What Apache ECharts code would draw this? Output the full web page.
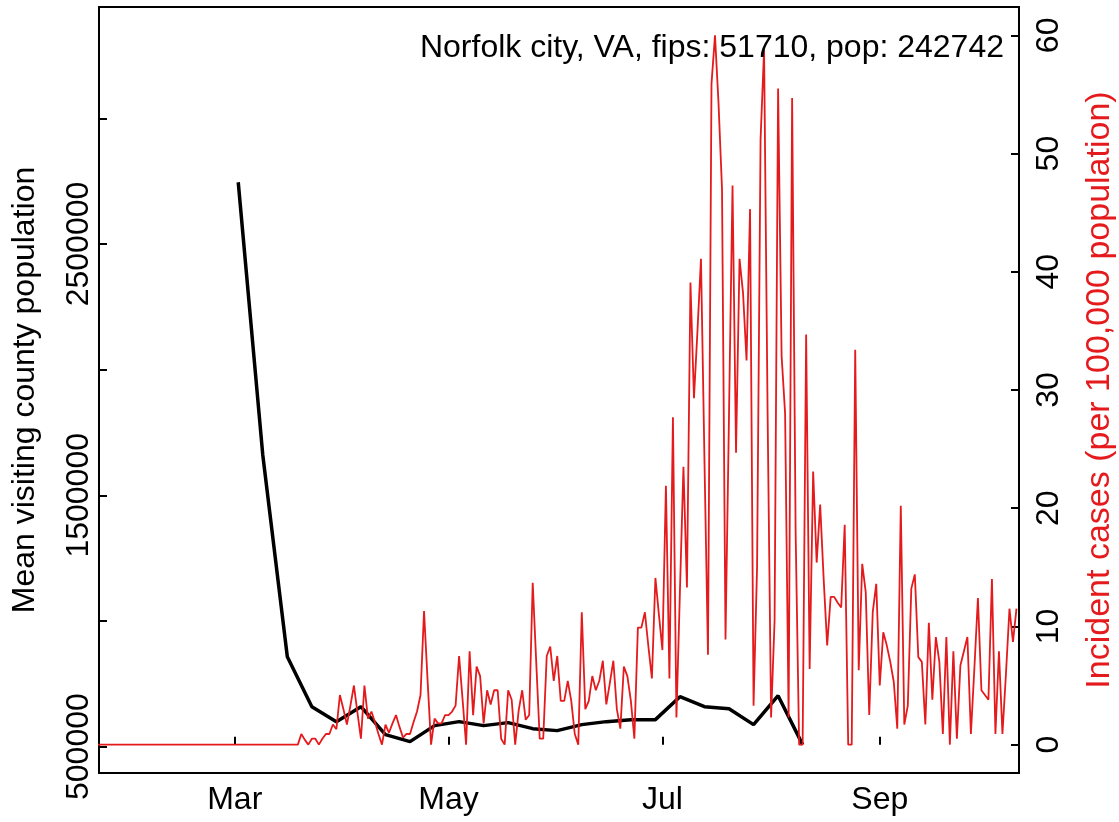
<!DOCTYPE html>
<html>
<head>
<meta charset="utf-8">
<script src="https://cdn.jsdelivr.net/npm/echarts@6/dist/echarts.min.js"></script>
<style>
html,body{margin:0;padding:0;background:#ffffff;}
#chart{width:1119px;height:822px;}
</style>
</head>
<body>
<div id="chart"></div>
<script>
// ---------- text ----------
const titleText = 'Norfolk city, VA, fips: 51710, pop: 242742';
const leftAxisName = 'Mean visiting county population';
const rightAxisName = 'Incident cases (per 100,000 population)';

// ---------- axes ----------
const monthTickDates = ['2020-03-01', '2020-05-01', '2020-07-01', '2020-09-01'];
const monthTickLabels = ['Mar', 'May', 'Jul', 'Sep'];
const xDataRange = ['2020-02-01', '2020-10-01'];          // plotted date range (axis padded 4% each side)
const leftTickValues = [500000, 1000000, 1500000, 2000000, 2500000, 3000000];
const leftLabelValues = [500000, 1500000, 2500000];
const leftRange = [395000, 3443000];
const rightTickValues = [0, 10, 20, 30, 40, 50, 60];
const rightRange = [-2.4, 62.4];

// ---------- black series: mean visiting county population (weekly) ----------
const blackDates = ['2020-03-02', '2020-03-09', '2020-03-16', '2020-03-23', '2020-03-30',
  '2020-04-06', '2020-04-13', '2020-04-20', '2020-04-27', '2020-05-04', '2020-05-11',
  '2020-05-18', '2020-05-25', '2020-06-01', '2020-06-08', '2020-06-15', '2020-06-22',
  '2020-06-29', '2020-07-06', '2020-07-13', '2020-07-20', '2020-07-27', '2020-08-03',
  '2020-08-10'];
const blackValues = [2745600, 1660700, 857750, 659000, 599400,
  659000, 547700, 519900, 583500, 599400, 583500,
  595400, 571550, 563600, 587450, 599400, 607300,
  607300, 698750, 659000, 651000, 587450, 702700,
  508000];

// ---------- red series: daily incident cases per 100,000 ----------
const redStartDate = '2020-01-22';
const redValues = [
  0, 0, 0, 0, 0, 0, 0, 0, 0, 0,
  0, 0, 0, 0, 0, 0, 0, 0, 0, 0,
  0, 0, 0, 0, 0, 0, 0, 0, 0, 0,
  0, 0, 0, 0, 0, 0, 0, 0, 0, 0,
  0, 0, 0, 0, 0, 0, 0, 0, 0, 0,
  0, 0, 0, 0, 0, 0,
  0, 0, 0.9, 0.4, 0, 0.5, 0.5, 0, 0.5, 0.9,
  0.9, 1.7, 1.3, 4.2, 3.0, 1.7, 3.3, 5.0, 2.7, 0.5,
  5.0, 2.2, 2.8, 1.9, 0.9, 0, 1.7, 1.0, 1.8, 2.5,
  1.5, 0.6, 0.9, 0.9, 1.9, 2.8, 4.2, 11.3, 5.5, 0,
  2.2, 1.8, 1.8, 2.5, 2.5, 2.8, 3.3, 7.5, 3.8, 0,
  7.9, 2.5, 6.6, 5.8, 1.8, 4.6, 3.4, 4.6, 4.6, 0.5,
  0, 4.6, 3.8, 0, 2.9, 4.6, 2.1, 2.5, 13.7, 7.0,
  0.5, 0.5, 7.5, 8.3, 5.4, 7.5, 3.7, 3.7, 5.4, 3.7,
  0.9, 0, 11.2, 3.0, 3.7, 5.8, 4.6, 5.4, 7.1, 3.4,
  5.2, 7.1, 3.0, 1.35, 6.6, 5.8, 3.7, 0.5, 9.9, 9.9,
  11.2, 8.3, 5.6, 14.1, 11, 8.0, 21.9, 5.6, 27.7, 2.3,
  13, 23.5, 13.3, 39.1, 29.3, 35, 41.1, 24, 7.6, 55.9,
  60, 54.3, 47, 8.9, 28, 47.3, 24.7, 41.1, 38.2, 32.5,
  45.3, 3.3, 15, 51.2, 58.8, 28.2, 2.3, 10.5, 55.5, 32.9,
  28, 2.3, 54.7, 18, 0, 0, 34.7, 6.4, 23.1, 15.4,
  20.3, 14, 8.4, 12.5, 12.5, 12, 11.6, 18.6, 0, 0,
  33.4, 6.3, 15.3, 12.9, 2.5, 11.2, 13.6, 5.0, 9.5, 8.4,
  7.0, 5.3, 1.35, 20.2, 1.7, 3.3, 13.2, 14.4, 7.4, 7.0,
  1.7, 10.3, 3.8, 9.1, 7.0, 0.9, 9.1, 0, 7.9, 0.5,
  6.7, 7.9, 9.1, 0.9, 6.5, 12.4, 4.6, 4.2, 3.8, 14.0,
  0.9, 7.9, 0.9, 6.0, 11.5, 8.7, 11.5
];

// ---------- helpers ----------
function ts(s) { const p = s.split('-').map(Number); return new Date(p[0], p[1] - 1, p[2]).getTime(); }
const redStart = ts(redStartDate);
const redData = redValues.map((v, i) => {
  const d = new Date(redStart); d.setDate(d.getDate() + i);
  return [d.getTime(), v];
});
const blackData = blackDates.map((d, i) => [ts(d), blackValues[i]]);
const x0 = ts(xDataRange[0]), x1 = ts(xDataRange[1]);
const xPad = (x1 - x0) * 0.04;
const monthTicks = monthTickDates.map(ts);

const FONT = "'Liberation Sans', Arial, Helvetica, sans-serif";
const RED = '#E41A1C';
const FS = 32;

const chart = echarts.init(document.getElementById('chart'), null, { renderer: 'canvas' });
chart.setOption({
  animation: false,
  backgroundColor: '#ffffff',
  textStyle: { fontFamily: FONT },
  title: {
    text: titleText,
    right: 110,
    top: 27,
    textStyle: { fontFamily: FONT, fontSize: FS, fontWeight: 'normal', color: '#000' }
  },
  grid: {
    left: 99, right: 100, top: 7, bottom: 49,
    containLabel: false,
    outerBoundsMode: 'none',
    show: true, borderColor: '#000', borderWidth: 2, backgroundColor: 'transparent'
  },
  xAxis: {
    type: 'value',
    min: x0 - xPad,
    max: x1 + xPad,
    splitLine: { show: false },
    axisLine: { show: false },
    axisTick: { show: true, inside: true, length: 8, lineStyle: { color: '#000', width: 2 }, customValues: monthTicks },
    axisLabel: {
      customValues: monthTicks,
      margin: 11,
      fontSize: FS, color: '#000', fontFamily: FONT,
      formatter: function (v) {
        const i = monthTicks.indexOf(v);
        return i >= 0 ? monthTickLabels[i] : '';
      }
    }
  },
  yAxis: [
    {
      type: 'value',
      position: 'left',
      min: leftRange[0], max: leftRange[1],
      name: leftAxisName,
      nameLocation: 'middle',
      nameRotate: 90,
      nameGap: 58,
      nameTextStyle: { fontSize: FS, color: '#000', fontFamily: FONT },
      splitLine: { show: false },
      axisLine: { show: false },
      axisTick: { show: true, inside: true, length: 8, lineStyle: { color: '#000', width: 2 }, customValues: leftTickValues },
      axisLabel: {
        customValues: leftLabelValues,
        rotate: 90, margin: 4,
        fontSize: FS, color: '#000', fontFamily: FONT,
        formatter: v => String(v)
      }
    },
    {
      type: 'value',
      position: 'right',
      min: rightRange[0], max: rightRange[1],
      name: rightAxisName,
      nameLocation: 'middle',
      nameRotate: 90,
      nameGap: 64,
      nameTextStyle: { fontSize: 34, color: RED, fontFamily: FONT },
      splitLine: { show: false },
      axisLine: { show: false },
      axisTick: { show: true, inside: true, length: 8, lineStyle: { color: '#000', width: 2 }, customValues: rightTickValues },
      axisLabel: {
        customValues: rightTickValues,
        rotate: 90, margin: 14,
        fontSize: FS, color: '#000', fontFamily: FONT,
        formatter: v => String(v)
      }
    }
  ],
  series: [
    {
      type: 'line',
      name: 'visiting',
      yAxisIndex: 0,
      data: blackData,
      showSymbol: false,
      symbol: 'none',
      lineStyle: { color: '#000', width: 3.5 },
      z: 2
    },
    {
      type: 'line',
      name: 'cases',
      yAxisIndex: 1,
      data: redData,
      showSymbol: false,
      symbol: 'none',
      lineStyle: { color: RED, width: 1.8 },
      z: 3
    }
  ]
});
</script>
</body>
</html>
